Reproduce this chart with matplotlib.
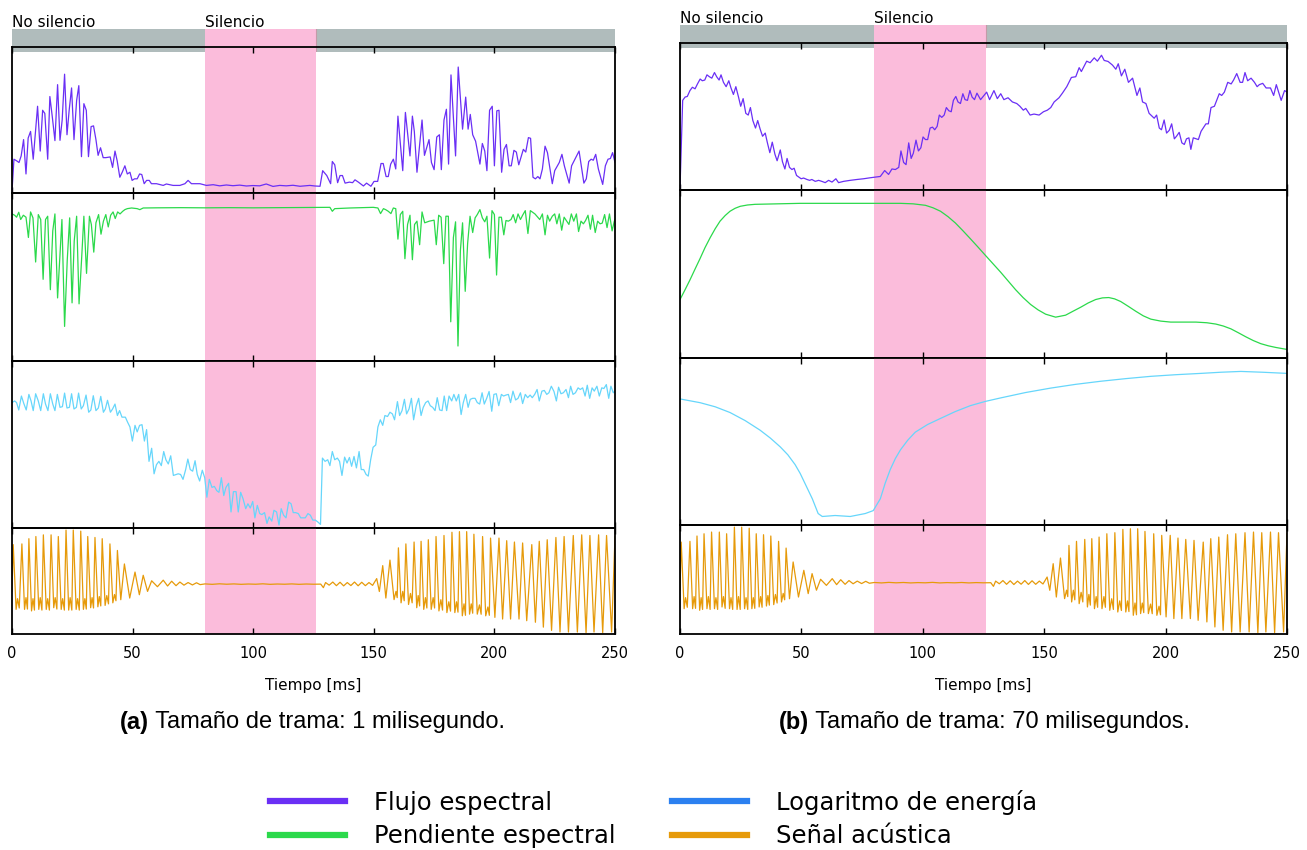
import matplotlib
matplotlib.use("Agg")
import matplotlib.pyplot as plt
from matplotlib.lines import Line2D
import numpy as np

# ---- data (time in ms, value in % of panel height) ----
flux_a = [(0, 0), (0.8, 22.6), (1.9, 21.5), (2.9, 20.3), (3.8, 24.9), (4.8, 36.3), (5.8, 12.3), (6.7, 37.4),
          (7.7, 42), (8.8, 22.6), (10.6, 59.6), (11.7, 28.3), (12.7, 56.8), (13.6, 54.6), (14.8, 22.6),
          (15.7, 66.4), (16.7, 52.3), (17.8, 35.6), (18.9, 74.7), (19.9, 35.8), (20.8, 50), (21.8, 82),
          (22.8, 39.7), (23.7, 56.8), (24.7, 72.4), (25.7, 36.3), (26.8, 63.7), (27.7, 74), (28.8, 24.4),
          (29.8, 61.4), (30.8, 56.8), (31.7, 24.4), (32.8, 45.4), (33.8, 45.9), (34.8, 36.3), (35.7, 25.3),
          (36.7, 30.6), (37.8, 23.7), (38.9, 23.7), (40.7, 24.2), (41.7, 16.9), (42.7, 28.3), (43.6, 21.5),
          (44.7, 10), (45.7, 13.5), (46.8, 18), (47.8, 12.3), (48.9, 13.5), (49.8, 7.8), (50.8, 8.9),
          (51.9, 8.9), (52.9, 12.3), (53.8, 11.9), (54.8, 5.5), (55.8, 7.8), (56.9, 7.8), (57.8, 5.5),
          (59.9, 5.5), (62.7, 4.3), (64.0, 5.3), (66.8, 4.3), (69.6, 4.3), (71.7, 5.5), (73.0, 7.8),
          (74.4, 5.5), (77.9, 5.5), (80.6, 4.3), (83.4, 4.8), (86.1, 4.0), (88.9, 4.6), (91.6, 4.1),
          (94.4, 4.5), (97.2, 3.9), (99.9, 4.2), (102.7, 4.0), (105.4, 5.3), (108.2, 3.6), (111.0, 4.3),
          (113.7, 4.0), (116.5, 4.4), (119.4, 3.7), (123.5, 4.3), (125.6, 3.9), (127.7, 3.7),
          (128.8, 14.6), (130.5, 11.2), (132.1, 5.5), (132.8, 21), (133.8, 18.7), (135.0, 6.2), (136.0, 11.2),
          (137.0, 11.2), (138.1, 5.9), (139.9, 6.6), (141.2, 6.2), (142.2, 8.2), (143.6, 6.6), (145.7, 3.9),
          (147.0, 5.9), (148.8, 3.7), (150.1, 7.1), (151.6, 7.1), (153.0, 19.6), (153.9, 19.6), (155.1, 10.5),
          (156.0, 10.5), (157.0, 19.2), (158.1, 22.6), (159.1, 15.8), (160.0, 52.7), (162.0, 14.6),
          (163.1, 55.3), (165.0, 24.9), (166.0, 52.7), (166.8, 42), (167.9, 13.5), (170.0, 50), (171.0, 25.3),
          (172.9, 36.3), (173.9, 20.3), (175.0, 15.3), (176.1, 38.1), (177.2, 39.7), (178.0, 15.3),
          (179.1, 50), (180.1, 57.5), (181.0, 19.2), (182.0, 81.5), (183.9, 24.9), (185.0, 87), (186.8, 43.6),
          (188.1, 66), (189.1, 43.6), (190.0, 53.9), (191.0, 39.7), (192.2, 35.2), (194.0, 19.2), (195.0, 33.6),
          (196.0, 28.3), (196.9, 14.6), (198.0, 56.8), (199.1, 59.6), (200.0, 18), (201.0, 56.4), (201.9, 56.8),
          (203.0, 13.5), (204.0, 29.5), (205.0, 32.9), (206.1, 18), (207.0, 18), (208.1, 28.8), (209.1, 27.6),
          (210.1, 18.7), (212.0, 29.5), (213.0, 27.6), (214.1, 37.7), (215.0, 37.2), (216.0, 10), (217.0, 8.9),
          (218.0, 10.5), (218.9, 8.9), (219.9, 15.8), (221.0, 31.7), (222.0, 27.2), (224.0, 5.5), (225.0, 14.6),
          (226.9, 20.3), (228.0, 26), (229.0, 18), (231.0, 5.9), (232.0, 18), (234.1, 24.9), (235.1, 28.3),
          (237.1, 5.9), (238.1, 8.9), (239.1, 21), (240.1, 22.6), (241.0, 21.9), (242.0, 26), (243.1, 15.8),
          (244.9, 5), (246.0, 18), (247.1, 22.6), (248.1, 23.1), (249.0, 27.2), (250.0, 20.3)]

slope_a = [(0, 88.3), (1.1, 87.5), (1.9, 86.3), (2.8, 89.3), (3.6, 84.9), (4.7, 87.5), (5.8, 86.3), (6.8, 74),
           (7.7, 89.5), (8.7, 85.9), (9.8, 59.1), (10.9, 87.9), (11.9, 84.9), (12.9, 48.6), (13.9, 84.9),
           (14.8, 86.9), (15.9, 42.3), (16.9, 78), (17.8, 88.3), (18.9, 37.3), (20.7, 84.9), (21.8, 20),
           (22.9, 60.1), (23.9, 85.9), (24.9, 34.3), (25.8, 72), (26.8, 86.9), (27.8, 33.7), (28.9, 62.1),
           (29.8, 86.9), (30.9, 52.2), (32.1, 86.9), (32.9, 81.9), (33.9, 65.1), (34.8, 82.9), (35.9, 87.9),
           (36.9, 76), (37.9, 83.9), (38.9, 87.9), (39.9, 80.4), (40.9, 87.5), (41.9, 89.5), (42.8, 85.5),
           (43.8, 89.5), (44.8, 88.3), (45.9, 89.9), (46.8, 90.9), (47.8, 91.5), (49.6, 91.9), (51.9, 91.5),
           (53.0, 90.9), (54.4, 91.9), (60, 92.0), (70, 92.1), (80, 92.0), (90, 92.1), (100, 92.0), (110, 92.1),
           (120, 92.2), (131.8, 92.3), (132.8, 89.9), (133.8, 91.5), (140.1, 91.9), (149.8, 92.3), (151.7, 91.9),
           (152.8, 88.5), (154.0, 91.5), (154.9, 90.9), (156.0, 89.9), (157.1, 88.5), (158.1, 91.9),
           (159.1, 91.5), (160.0, 73), (161.0, 87.9), (162.0, 89.9), (162.9, 61.1), (164.0, 81.9), (165.0, 87.5),
           (166.0, 60.5), (166.9, 81.9), (167.9, 83.9), (169.0, 69.6), (170.0, 89.5), (171.1, 82.9),
           (173.0, 83.9), (175.0, 84.5), (175.9, 69.6), (176.9, 87.5), (177.9, 86.3), (179.0, 58.1),
           (179.9, 86.9), (180.9, 86.9), (181.9, 22.8), (183.0, 74), (183.9, 83.5), (184.9, 8.1), (185.9, 66.1),
           (186.8, 82.9), (187.9, 41.3), (188.9, 70.4), (189.9, 86.9), (191.0, 77), (192.0, 85.9), (192.9, 87.9),
           (194.0, 90.9), (195.0, 85.9), (196.0, 83.5), (196.9, 86.9), (198.0, 61.5), (199.0, 90.3),
           (200.0, 87.9), (200.9, 51.2), (201.9, 86.3), (202.9, 86.3), (203.9, 75.6), (204.8, 84.3),
           (205.8, 83.9), (206.9, 84.9), (207.8, 87.9), (208.8, 82.9), (209.8, 88.3), (210.8, 84.9),
           (211.7, 87.5), (212.8, 90.3), (213.9, 76.4), (214.9, 90.3), (216.8, 88.3), (218.8, 84.9),
           (219.9, 88.3), (221.0, 75.6), (222.0, 87.5), (222.9, 83.9), (224.0, 86.9), (225.0, 88.3),
           (225.9, 82.3), (226.9, 88.3), (227.9, 78.4), (228.9, 86.3), (230.0, 83.9), (230.9, 81.9),
           (231.9, 88.3), (232.9, 83.9), (234.0, 88.3), (234.9, 77.6), (235.9, 83.9), (236.9, 82.3),
           (237.8, 84.3), (238.8, 87.5), (239.8, 79), (240.7, 87.5), (241.8, 77), (242.8, 83.9), (243.8, 82.3),
           (244.7, 82.7), (245.7, 87.9), (246.7, 80), (247.7, 88.3), (248.8, 78), (249.7, 83.9), (250.0, 84.9)]

energy_a = [(0, 75.6), (1.1, 76.6), (1.9, 75.6), (2.8, 71.1), (3.9, 79.6), (4.9, 75), (5.9, 71.1), (7.0, 80.6),
            (7.9, 76.6), (8.8, 70.7), (9.8, 81), (10.9, 76.6), (11.9, 70.7), (13.0, 81), (13.9, 74.7),
            (14.9, 70.7), (15.9, 81), (16.9, 74.7), (17.8, 70.7), (18.8, 80.6), (19.9, 72.7), (20.9, 73.1),
            (21.8, 81.4), (22.8, 72.3), (23.8, 72.7), (24.7, 81), (25.7, 71.7), (26.7, 72.7), (27.6, 81.4),
            (28.7, 71.7), (29.6, 73.7), (30.7, 80.2), (31.8, 69.7), (32.7, 71.1), (33.7, 79.8), (34.8, 70.7),
            (35.8, 72.3), (36.8, 79.4), (37.9, 69.7), (38.7, 71.7), (39.6, 77), (40.8, 69.7), (41.7, 71.7),
            (42.7, 74.7), (43.7, 67.7), (44.6, 70.7), (45.6, 66.7), (47.0, 66.7), (47.9, 63.7), (48.9, 60.7),
            (49.9, 52.1), (51.0, 61.7), (51.9, 57.7), (52.9, 61.7), (53.9, 62.1), (54.9, 52.1), (55.8, 59.1),
            (56.8, 39.7), (57.9, 47.7), (58.9, 32.1), (59.9, 37.7), (60.9, 39.7), (61.9, 37.1), (62.9, 45.7),
            (63.8, 40.7), (64.8, 38.1), (65.8, 43.1), (66.9, 31.1), (68.9, 32.1), (69.9, 31.7), (70.9, 28.7),
            (72.0, 34.7), (72.9, 41.1), (73.9, 34.7), (74.9, 33.7), (75.9, 40.1), (76.8, 31.7), (77.8, 27.7),
            (78.9, 34.3), (79.9, 29.7), (80.8, 17.8), (81.8, 28.7), (82.9, 23.8), (83.9, 24.4), (84.9, 21.8),
            (85.8, 20.8), (86.8, 29.7), (87.8, 18.8), (88.7, 23.8), (89.8, 26.3), (90.8, 8.8), (91.8, 21.2),
            (92.9, 21.2), (93.8, 8.8), (94.8, 20.8), (95.8, 16.8), (96.9, 10.8), (97.8, 13.8), (98.8, 11.2),
            (99.8, 15.2), (100.7, 5.2), (101.7, 12.8), (102.7, 7.8), (103.6, 7.2), (104.7, 8.4), (105.7, 1.8),
            (106.6, 5.8), (107.7, 3.2), (108.6, 9.8), (109.7, 8.8), (110.7, 0.8), (111.6, 10.8), (112.6, 6.8),
            (113.6, 5.2), (114.7, 14.8), (115.7, 13.8), (116.6, 8.4), (117.6, 8.4), (118.7, 7.8), (119.7, 5.2),
            (120.6, 5.2), (121.6, 5.2), (122.7, 7.8), (123.7, 6.8), (124.7, 3.8), (125.8, 3.8), (126.7, 2.8),
            (127.9, 1.2), (128.7, 41.7), (129.8, 39.7), (130.9, 40.7), (131.8, 37.1), (132.8, 45.7),
            (133.8, 40.7), (134.9, 41.7), (135.8, 39.7), (136.8, 31.1), (137.9, 42.3), (138.9, 38.7),
            (139.9, 42.1), (140.8, 36.7), (141.8, 42.7), (142.8, 35.7), (143.9, 45.7), (144.8, 34.7),
            (145.8, 34.7), (146.8, 31.7), (147.7, 30.7), (148.7, 40.7), (149.7, 48.3), (150.8, 49.7),
            (151.7, 60.7), (152.7, 65.1), (153.7, 61.7), (154.6, 67.7), (155.7, 67.1), (156.7, 69.7),
            (157.7, 68.7), (158.6, 65.1), (159.8, 76.2), (160.7, 67.7), (161.7, 70.7), (162.7, 77.6),
            (163.6, 68.7), (164.6, 71.7), (165.6, 78.2), (166.5, 65.1), (167.6, 73.7), (168.6, 78.2),
            (169.6, 67.7), (170.5, 72.7), (171.5, 75.6), (172.5, 76.6), (173.4, 73.7), (174.4, 72.7),
            (175.4, 70.7), (176.3, 78.6), (177.3, 71.1), (178.3, 70.7), (179.2, 79.6), (180.2, 70.7),
            (181.2, 79.6), (182.3, 76.6), (183.2, 80.6), (184.2, 76.6), (185.2, 80.6), (186.2, 68.3),
            (187.1, 75.6), (188.1, 80.6), (189.1, 72.7), (190.0, 77.6), (191.0, 78.2), (192.0, 78.2),
            (192.9, 75.6), (193.9, 74.7), (194.9, 81.6), (195.8, 74.7), (196.8, 78.2), (197.8, 82.4),
            (198.9, 70.3), (199.8, 80.6), (200.8, 81), (201.8, 73.7), (202.9, 80.6), (203.8, 79.6),
            (204.8, 80.2), (205.8, 80.6), (206.7, 75.6), (207.7, 82.6), (208.8, 77.2), (209.8, 78.2),
            (210.8, 81.6), (211.7, 75), (212.8, 80.6), (213.8, 78.6), (214.8, 80.2), (215.7, 78.6),
            (216.7, 80.6), (217.7, 83.6), (218.6, 76.6), (219.7, 82.6), (220.7, 83), (221.7, 80.6),
            (222.6, 81.6), (223.6, 85.6), (224.7, 82.4), (225.7, 76.6), (226.6, 85), (227.6, 81), (228.6, 81.6),
            (229.7, 83.6), (230.7, 78.6), (231.6, 85.6), (232.6, 80.6), (233.6, 81.6), (234.7, 84.6),
            (235.6, 83.6), (236.6, 84.6), (237.6, 79.6), (238.5, 86.2), (239.5, 78.2), (240.5, 84.6),
            (241.4, 82.6), (242.5, 85.6), (243.5, 79.6), (244.5, 84.6), (245.4, 84.2), (246.4, 86.6),
            (247.4, 78.2), (248.3, 85.6), (249.3, 81.6), (250.0, 82.6)]

# acoustic signal: peaks, troughs and the small bumps between them (same recording in both panels)
signal = [(0, 40), (0.5, 85), (1.7, 22.7), (2.3, 33), (3.0, 24), (4.1, 85.7), (5.2, 22.7), (5.8, 34), (6.4, 23),
          (7.0, 90.7), (8.1, 21.2), (8.7, 33), (9.3, 22), (9.9, 92.8), (11.1, 22.7), (11.7, 34), (12.4, 22),
          (13.0, 94.4), (14.2, 22.7), (14.8, 33), (15.5, 22), (16.2, 94.4), (17.3, 24.3), (17.9, 34), (18.6, 23),
          (19.2, 92.8), (20.4, 22.7), (21.0, 33), (21.7, 22), (22.4, 99), (23.5, 22), (24.1, 34), (24.8, 22),
          (25.4, 99), (26.6, 22.7), (27.2, 33), (27.9, 22), (28.5, 98), (29.6, 22.7), (30.2, 33), (30.8, 23),
          (31.4, 92.8), (32.6, 24.3), (33.2, 34), (33.8, 24), (34.4, 91.9), (35.6, 25.2), (36.2, 35), (36.8, 26),
          (37.4, 90.7), (38.6, 26.5), (39.3, 36), (40.0, 28), (40.6, 85.7), (41.8, 29), (42.5, 37), (43.1, 31),
          (43.7, 79.4), (45.1, 32), (46.6, 66.4), (48.8, 33.6), (51.0, 58.6), (52.8, 36.8), (54.4, 55.5),
          (56.2, 40), (57.9, 50.2), (60.3, 44.5), (62.7, 50.8), (64.5, 45.2), (66.2, 49.8), (68.0, 45.5),
          (69.6, 49), (71.3, 46), (73.0, 48.5), (74.8, 46.2), (76.5, 48.3), (78.0, 46.5), (80, 47.2), (83, 46.8),
          (86, 47.3), (89, 46.9), (92, 47.2), (95, 46.8), (98, 47.1), (101, 46.9), (104, 47.3), (107, 46.8),
          (110, 47.1), (113, 46.9), (116, 47.2), (119, 46.8), (122, 47.1), (125, 46.9), (128, 47.0),
          (129.1, 43.6), (130, 48.5), (131.5, 46), (133, 49), (134.5, 45.5), (136, 48.8), (137.5, 45.3),
          (139, 48.5), (140.5, 45.6), (142, 49), (143.5, 45.4), (145, 48.8), (146.5, 45.5), (148, 48.5),
          (149.5, 45.8), (151.2, 52.3), (152.3, 39.9), (153.7, 64.8), (155.0, 33.6), (156.7, 70.1),
          (158.4, 32.1), (159.2, 40), (159.7, 34), (160.2, 81.9), (161.3, 29), (162.0, 40), (162.6, 31),
          (163.3, 85.7), (164.4, 27.4), (165.2, 38), (165.9, 29), (166.7, 87.5), (167.8, 24.3), (168.4, 36),
          (169.0, 26), (169.6, 88.2), (170.7, 22.7), (171.4, 34), (172.0, 24), (172.6, 89.7), (173.8, 22.7),
          (174.6, 34), (175.2, 24), (175.8, 92.8), (177.0, 21.2), (177.8, 32), (178.5, 22), (179.1, 93.8),
          (180.3, 19.6), (181.1, 30), (181.8, 21), (182.4, 96.9), (183.6, 19.6), (184.3, 30), (184.9, 20),
          (185.5, 97.5), (186.7, 16.5), (187.4, 28), (188.0, 17), (188.5, 97.5), (189.7, 18.1), (190.4, 28),
          (191.0, 19), (191.5, 95), (192.9, 18.1), (193.8, 27), (194.5, 18), (195.1, 92.8), (196.4, 16.5),
          (197.3, 25), (197.9, 17), (198.4, 91.3), (200.2, 15), (201.9, 91.3), (203.4, 13.4), (205.1, 88.8),
          (206.7, 13.4), (208.3, 87.5), (210.2, 13.4), (211.7, 86.6), (213.4, 11.8), (215.5, 85), (217.0, 10.3),
          (218.6, 88.2), (220.3, 5.6), (221.9, 89.7), (223.7, 2.5), (225.5, 91.9), (227.2, 0.9), (228.9, 92.8),
          (230.7, 0.9), (232.7, 93.8), (234.4, 0.9), (236.2, 94.4), (238.0, 0.3), (239.6, 93.8), (241.3, 0.9),
          (243.2, 94.4), (244.9, 0.3), (246.5, 93.8), (248.6, 0.9), (250.0, 92.8)]

flux_b = [(0, 0), (1.1, 61.2), (2.1, 63.5), (3.0, 63.9), (4.1, 68), (5.1, 70.3), (6.2, 69.2), (7.2, 72.6),
          (8.3, 76), (9.2, 74.8), (10.2, 75.3), (11.1, 78.9), (12.1, 77.6), (13.1, 76.6), (14.2, 80.5),
          (15.1, 77.6), (16.1, 75.3), (16.9, 78.9), (17.9, 73.7), (19.0, 70.7), (20.1, 74.8), (21.0, 69.8),
          (22.0, 65.3), (23.0, 70.7), (24.1, 63.5), (25.0, 57.1), (26.0, 62.4), (27.1, 52.2), (28.1, 51),
          (29.0, 56.2), (30.0, 47.2), (31.1, 42), (32.0, 47.2), (33.0, 41.3), (34.0, 36.3), (35.1, 38.5),
          (36.0, 31.7), (37.0, 24.9), (38.0, 32.2), (39.1, 23.8), (40.0, 19.3), (41.3, 26.8), (42.2, 18.6),
          (43.2, 13.6), (44.1, 20.9), (45.1, 14.7), (46.1, 13.2), (47.0, 14.1), (48.0, 9.1), (49.0, 7.9),
          (49.9, 6.8), (50.9, 7.3), (52.3, 6.3), (53.4, 5.7), (54.3, 6.3), (55.7, 5), (57.1, 5.7), (58.4, 5),
          (59.8, 4.1), (61.2, 5.7), (62.6, 4.5), (64.2, 6.8), (65.3, 4.1), (67.4, 5), (70.1, 5.7), (72.9, 6.3),
          (75.6, 6.8), (78.4, 7.5), (82.5, 8.4), (84.3, 12.5), (85.9, 9.8), (87.3, 13.6), (88.7, 13.2),
          (90.1, 14.7), (91.0, 26.1), (92.1, 18.1), (93.1, 16.6), (94.2, 31.7), (95.2, 20.9), (96.1, 24.5),
          (97.2, 33.6), (98.2, 26.1), (99.2, 28.3), (100.1, 35.8), (101.1, 34), (102.0, 34), (103.0, 42),
          (104.0, 42.6), (104.9, 40.8), (105.9, 43.1), (106.8, 51), (107.8, 49.4), (108.8, 51), (109.7, 56.2),
          (110.7, 54), (111.7, 53.3), (112.6, 61.2), (113.6, 63.9), (114.5, 60.1), (115.5, 59), (116.5, 65.8),
          (117.4, 61.7), (118.4, 61.2), (119.4, 68), (120.3, 63.5), (121.3, 61.7), (122.3, 66.2), (123.8, 61.7),
          (125.2, 64.6), (126.3, 66.9), (127.5, 61.7), (129.3, 68), (130.7, 62.4), (132.1, 65.8), (133.4, 61.7),
          (135.1, 63), (136.9, 60.1), (138.7, 59), (140.0, 57.1), (141.4, 54.4), (142.4, 55.6), (144.2, 51),
          (145.8, 51.7), (147.9, 51), (149.7, 53.3), (151.3, 54.4), (152.7, 56.2), (154.1, 60.1), (156.1, 63),
          (157.5, 66.2), (159.3, 70.7), (161.2, 77.1), (163.0, 77.6), (164.4, 83.9), (165.3, 81.2),
          (167.5, 88.4), (168.9, 87.3), (170.6, 90.7), (171.9, 88.4), (173.6, 92.5), (174.7, 88.9),
          (176.3, 88.2), (178.1, 85.7), (179.5, 82.8), (180.5, 86.6), (181.8, 78.2), (183.2, 82.8),
          (184.7, 73.7), (186.4, 76.6), (188.2, 64.6), (189.4, 69.8), (190.5, 60.1), (191.9, 59), (193.2, 52.2),
          (195.3, 48.8), (196.3, 51), (197.4, 42), (198.3, 40.8), (199.4, 47.6), (200.4, 38.5), (201.5, 40.4),
          (202.5, 44.9), (203.6, 34.5), (204.5, 36.3), (205.6, 39), (206.7, 31.7), (207.7, 30.6), (208.6, 34.5),
          (209.6, 35.2), (210.4, 27.2), (211.4, 35.2), (213.5, 34), (214.6, 39.7), (216.6, 44.9), (217.6, 44.9),
          (218.7, 56.2), (220.1, 57.1), (222.1, 65.8), (223.1, 64.6), (224.2, 66.9), (225.6, 73.7), (227.0, 72.6),
          (228.0, 75.3), (229.3, 79.8), (230.7, 73.7), (231.7, 73.7), (232.7, 80.5), (233.8, 74.8), (235.2, 76.6),
          (236.6, 73.7), (237.7, 70.7), (238.6, 72.1), (240.0, 73), (241.4, 69.8), (243.2, 69.8), (244.5, 64.6),
          (245.6, 72.1), (247.6, 61.2), (249.0, 68), (250.0, 66.9)]

slope_b = [(0, 34.5), (2.0, 40.2), (4.1, 46.4), (6.2, 53.0), (8.3, 59.5), (10.3, 66.0), (12.4, 72), (14.5, 77.5),
           (16.5, 82.1), (18.6, 85.5), (20.6, 88.1), (22.7, 89.9), (24.8, 91.1), (27.8, 91.9), (30.9, 92.3),
           (49.5, 92.9), (70.1, 92.9), (90.8, 92.9), (96.0, 92.6), (101.1, 91.7), (104.2, 90.2), (107.3, 88.1),
           (110.4, 84.8), (113.4, 81), (116.5, 76.3), (119.6, 71.4), (122.7, 66.4), (125.8, 61.3), (132.0, 51.2),
           (138.2, 40.5), (141.3, 35.7), (144.4, 31.5), (147.5, 28.2), (150.6, 25.6), (154.7, 23.8), (158.8, 25),
           (162.0, 27.5), (165.0, 29.8), (168.1, 32.4), (171.2, 34.5), (174.0, 35.5), (176.6, 35.7),
           (179.0, 34.9), (181.5, 33.3), (184.6, 30.4), (187.7, 27.4), (190.8, 24.6), (193.9, 22.6),
           (198.0, 21.4), (202.1, 20.8), (212.5, 20.8), (217.0, 20.4), (220.7, 19.6), (223.8, 18.4),
           (226.9, 16.7), (230.0, 14.3), (233.0, 11.9), (236.1, 9.6), (239.2, 7.7), (242.3, 6.4), (245.4, 5.4),
           (250.0, 4.2)]

energy_b = [(0, 76), (8.3, 73.7), (14.5, 71.2), (20.6, 67.7), (26.8, 62.8), (33.0, 56.9), (37.2, 52.1),
            (41.3, 46.7), (44.4, 41.9), (47.4, 35.9), (49.5, 30.5), (51.6, 24), (54.5, 15), (56.9, 6), (58.6, 4.2),
            (63.9, 4.8), (70.1, 4.2), (76.3, 6), (79.6, 7.8), (82.5, 15), (84.5, 24.5), (86.6, 32.9),
            (88.7, 39.6), (90.8, 44.9), (93.8, 50.8), (96.9, 55.7), (102.0, 60.4), (107.3, 64.1), (113.4, 68.3),
            (119.6, 71.9), (125.8, 74.5), (132.0, 76.6), (142.3, 79.9), (152.6, 82.6), (162.9, 84.9),
            (173.3, 86.8), (183.6, 88.4), (193.9, 89.8), (204.2, 90.8), (214.5, 91.6), (222.7, 92.3),
            (231.0, 92.8), (240.0, 92.3), (250.0, 91.6)]

silence = (80, 126)
xticks = [0, 50, 100, 150, 200, 250]
captions = [("(a)", " Tamaño de trama: 1 milisegundo."), ("(b)", " Tamaño de trama: 70 milisegundos.")]
legend_labels = ["Flujo espectral", "Pendiente espectral", "Logaritmo de energía", "Señal acústica"]

c_flux, c_slope, c_energy, c_sig = "#6a2ff5", "#2bd94b", "#66d6fb", "#e69a0a"
c_energy_leg = "#2b80f0"
pink, grey = "#fbbcdb", "#b0bcbc"

W, H = 1307, 850
fig = plt.figure(figsize=(W / 100, H / 100), dpi=100)
plt.rcParams['font.family'] = ['DejaVu Sans']


def rect(x0, x1, y0, y1):
    return [x0 / W, 1 - y1 / H, (x1 - x0) / W, (y1 - y0) / H]


panels = [
    dict(x=(12, 615), bar=(29, 52), rows=[47, 193, 361, 528, 634],
         series=[flux_a, slope_a, energy_a, signal], cap_x=120),
    dict(x=(680, 1287), bar=(25, 48), rows=[43, 190, 358, 525, 634],
         series=[flux_b, slope_b, energy_b, signal], cap_x=779),
]
colors = [c_flux, c_slope, c_energy, c_sig]

for k, p in enumerate(panels):
    x0, x1 = p["x"]
    bar = fig.add_axes(rect(x0, x1, *p["bar"]))
    bar.axvspan(0, 250, color=grey, lw=0)
    bar.axvspan(*silence, color=pink, lw=0)
    bar.axvline(silence[1], color="#c49aa8", lw=0.8)
    bar.set_xlim(0, 250)
    bar.set_ylim(0, 1)
    bar.axis("off")
    bar.text(0, 1.1, "No silencio", fontsize=11, va="baseline", ha="left")
    bar.text(silence[0], 1.1, "Silencio", fontsize=11, va="baseline", ha="left")

    rows = p["rows"]
    for i in range(4):
        ax = fig.add_axes(rect(x0, x1, rows[i], rows[i + 1]))
        ax.set_facecolor("none")
        ax.axvspan(*silence, color=pink, lw=0, zorder=0)
        t, v = np.array(p["series"][i]).T
        ax.plot(t, v, color=colors[i], lw=0.9, zorder=2)
        ax.set_xlim(0, 250)
        ax.set_ylim(-1, 101)
        ax.set_yticks([])
        ax.set_xticks(xticks)
        ax.tick_params(axis="x", direction="in", top=True, bottom=True, length=4, width=1,
                       labelsize=10.5, pad=9, labelbottom=(i == 3))
        for s in ax.spines.values():
            s.set_linewidth(1.3)
        if i == 3:
            ax.set_xlabel("Tiempo [ms]", fontsize=11, labelpad=12)
            bold, rest = captions[k]
            t1 = fig.text(p["cap_x"] / W, 1 - 722 / H, bold, fontsize=17, weight="bold",
                          family="Liberation Sans", va="center", ha="left")
            ax.annotate(rest, xy=(1, 0.5), xycoords=t1, va="center", ha="left", fontsize=17,
                        family="Liberation Sans", annotation_clip=False)

handles = [Line2D([], [], color=c, lw=4.5) for c in [c_flux, c_slope, c_energy_leg, c_sig]]
fig.legend(handles, legend_labels, ncol=2, loc="center", bbox_to_anchor=(0.5, 1 - 819 / H),
           frameon=False, fontsize=17.5, handlelength=3.1, handletextpad=1.2, columnspacing=2.3,
           labelspacing=0.4)

fig.savefig("out.png", dpi=100)
